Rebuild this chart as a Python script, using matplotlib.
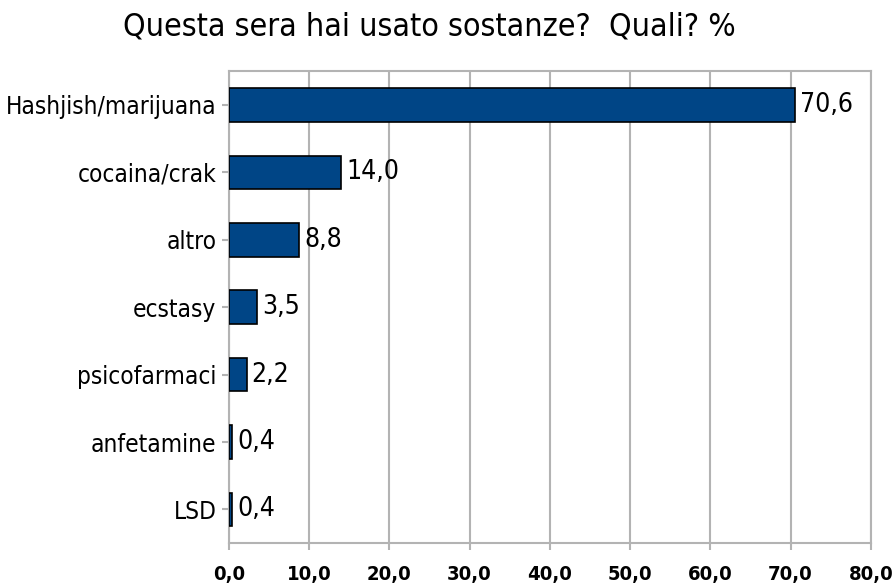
import matplotlib
matplotlib.use("Agg")
from matplotlib import pyplot as plt

categories = ["Hashjish/marijuana", "cocaina/crak", "altro", "ecstasy",
              "psicofarmaci", "anfetamine", "LSD"]
values = [70.6, 14.0, 8.8, 3.5, 2.2, 0.4, 0.4]
value_labels = ["70,6", "14,0", "8,8", "3,5", "2,2", "0,4", "0,4"]
xticks = [0, 10, 20, 30, 40, 50, 60, 70, 80]
xtick_labels = ["0,0", "10,0", "20,0", "30,0", "40,0", "50,0", "60,0", "70,0", "80,0"]

plt.rcParams['font.family'] = ['DejaVu Sans']
plt.rcParams['font.stretch'] = 'condensed'

fig = plt.figure(figsize=(8.94, 5.84), dpi=100)
ax = fig.add_axes([0.256, 0.070, 0.718, 0.808])

pos = list(range(len(categories)))
ax.barh(pos, values, height=0.5, color='#004586', edgecolor='black', linewidth=1.2, zorder=3)
for p, v, lab in zip(pos, values, value_labels):
    ax.text(v + 0.6, p, lab, va='center', ha='left', fontsize=19, color='black')

ax.set_yticks(pos)
ax.set_yticklabels(categories, fontsize=17.5)
ax.set_ylim(len(categories) - 0.5, -0.5)
ax.set_xlim(0, 80)
ax.set_xticks(xticks)
ax.set_xticklabels(xtick_labels, fontsize=14.5, fontweight='bold')

ax.grid(axis='x', color='#b3b3b3', linewidth=1.5, zorder=0)
for s in ax.spines.values():
    s.set_color('#b3b3b3')
    s.set_linewidth(1.5)
ax.tick_params(axis='both', color='#b3b3b3', width=1.5, length=5, pad=4)
ax.tick_params(axis='x', pad=11)

fig.suptitle("Questa sera hai usato sostanze?  Quali? %", x=0.48, y=0.98, fontsize=23)

plt.savefig("out.png", dpi=100)
